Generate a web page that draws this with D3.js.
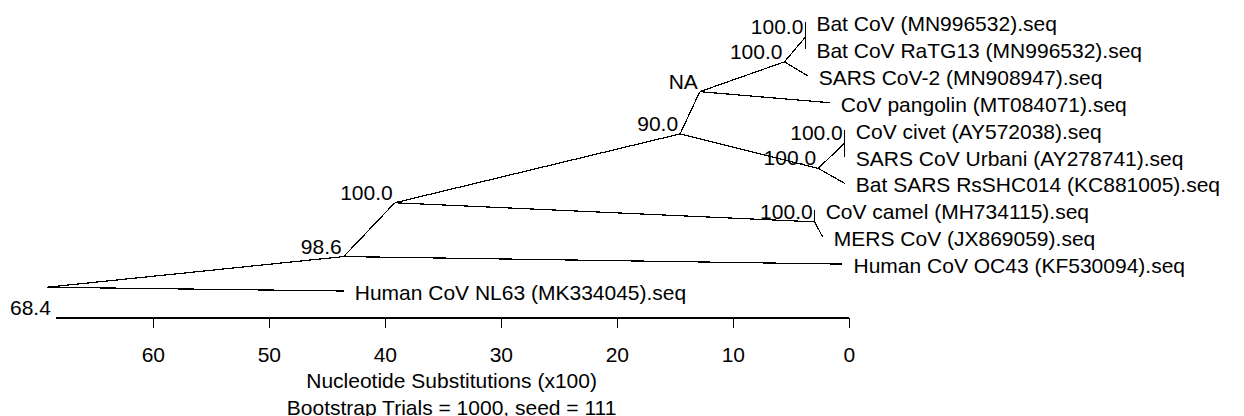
<!DOCTYPE html>
<html>
<head>
<meta charset="utf-8">
<script src="https://cdn.jsdelivr.net/npm/d3@7"></script>
<style>
  html, body { margin: 0; padding: 0; background: #fff; }
  svg { display: block; }
  text { font-family: "Liberation Sans", Arial, sans-serif; font-size: 21px; fill: #000; }
</style>
</head>
<body>
<svg id="chart" width="1244" height="416"></svg>
<script>
// ---- data ----
const leafNames = [
  "Bat CoV (MN996532).seq",
  "Bat CoV RaTG13 (MN996532).seq",
  "SARS CoV-2 (MN908947).seq",
  "CoV pangolin (MT084071).seq",
  "CoV civet (AY572038).seq",
  "SARS CoV Urbani (AY278741).seq",
  "Bat SARS RsSHC014 (KC881005).seq",
  "CoV camel (MH734115).seq",
  "MERS CoV (JX869059).seq",
  "Human CoV OC43 (KF530094).seq",
  "Human CoV NL63 (MK334045).seq"
];
const leafDist   = [3.7, 3.7, 3.5, 1.6, 0.3, 0.3, 0.3, 2.9, 2.2, 0.5, 43.5];
const leafParent = ["F", "F", "E", "D", "H", "H", "G", "I", "I", "A", "root"];

const nodeIds     = ["root", "A", "B", "C", "D", "E", "F", "G", "H", "I"];
const nodeDist    = [69.1, 43.5, 39.1, 14.5, 12.8, 5.5, 3.7, 2.6, 0.3, 2.9];
const nodeRow     = [9.86, 8.72, 6.72, 4.16, 2.59, 1.48, 0.56, 5.44, 4.5, 7.43];
const nodeParent  = [null, "root", "A", "B", "C", "D", "E", "C", "G", "B"];
const nodeSupport = ["", "98.6", "100.0", "90.0", "NA", "100.0", "100.0", "100.0", "100.0", "100.0"];

const tickValues = [0, 10, 20, 30, 40, 50, 60];
const axisMax = 68.4;
const axisTitle = ["Nucleotide Substitutions (x100)", "Bootstrap Trials = 1000, seed = 111"];

// ---- scales ----
const svg = d3.select("#chart");
const x = d3.scaleLinear().domain([axisMax, 0]).range([54.9, 848.3]);
const rowScale = d3.scaleLinear().domain([0, leafNames.length - 1]).range([22, 291]);

const pos = {};
nodeIds.forEach((id, i) => { pos[id] = { x: x(nodeDist[i]), y: rowScale(nodeRow[i]) }; });
const leaves = leafNames.map((n, i) => ({ name: n, x: x(leafDist[i]), y: rowScale(i), parent: leafParent[i] }));

const edges = [];
nodeIds.forEach((id, i) => { if (nodeParent[i]) edges.push({ s: pos[nodeParent[i]], t: pos[id] }); });
leaves.forEach(l => edges.push({ s: pos[l.parent], t: l }));

// ---- branches ----
svg.append("g")
  .selectAll("line").data(edges).join("line")
  .attr("x1", d => d.s.x).attr("y1", d => d.s.y)
  .attr("x2", d => d.t.x).attr("y2", d => d.t.y)
  .attr("stroke", "#000").attr("stroke-width", 1.2)
  .attr("shape-rendering", "crispEdges");

// ---- leaf labels ----
svg.append("g")
  .selectAll("text").data(leaves).join("text")
  .attr("x", d => d.x + 11).attr("y", d => d.y + 9)
  .text(d => d.name);

// ---- bootstrap labels ----
const supp = nodeIds.map((id, i) => ({ p: pos[id], t: nodeSupport[i] })).filter(d => d.t);
svg.append("g")
  .selectAll("text").data(supp).join("text")
  .attr("x", d => d.p.x - 2).attr("y", d => d.p.y - 3)
  .attr("text-anchor", "end")
  .text(d => d.t);

// ---- axis ----
const axisY = 317;
const axis = d3.axisBottom(x).tickValues(tickValues).tickSize(10).tickSizeOuter(0).tickPadding(20)
  .tickFormat(d3.format("d"));
const ag = svg.append("g").attr("transform", `translate(0.5,${axisY + 0.5})`).call(axis);
ag.selectAll("path, line").attr("stroke", "#000").attr("stroke-width", 1.2).attr("shape-rendering", "crispEdges");
ag.selectAll("text").attr("fill", "#000").style("font-family", '"Liberation Sans", Arial, sans-serif').style("font-size", "21px");

svg.append("text")
  .attr("x", x(axisMax) - 4).attr("y", axisY - 2)
  .attr("text-anchor", "end")
  .text(d3.format(".1f")(axisMax));

svg.append("g").selectAll("text").data(axisTitle).join("text")
  .attr("x", (x(axisMax) + x(0)) / 2)
  .attr("y", (d, i) => 388 + i * 27)
  .attr("text-anchor", "middle")
  .text(d => d);
</script>
</body>
</html>
